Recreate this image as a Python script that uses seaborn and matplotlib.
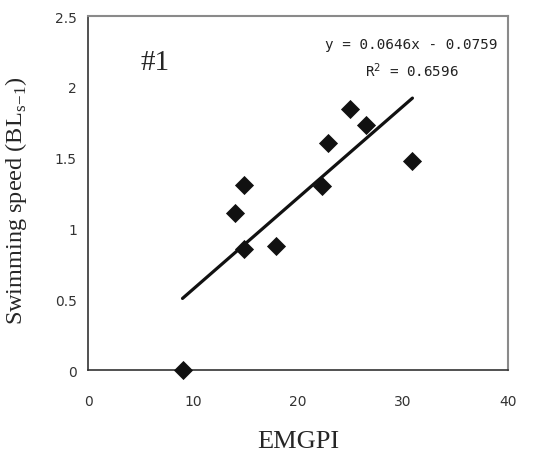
import numpy as np
import pandas as pd
import matplotlib
matplotlib.use("Agg")
import matplotlib.pyplot as plt
import seaborn as sns

# EMGPI vs swimming speed, fish #1
emgpi = [9.0, 14.0, 14.9, 14.9, 17.9, 22.3, 22.9, 25.0, 26.5, 30.9]
speed = [0.0, 1.11, 1.31, 0.855, 0.876, 1.30, 1.60, 1.84, 1.73, 1.475]

# trend line as printed on the chart
slope = 0.0646
intercept = -0.0759
eq_text = "y = 0.0646x - 0.0759"
r2_text = "R$^2$ = 0.6596"

x_ticks = [0, 10, 20, 30, 40]
y_ticks = [0, 0.5, 1, 1.5, 2, 2.5]
y_tick_labels = ["0", "0.5", "1", "1.5", "2", "2.5"]


def main():
    df = pd.DataFrame({"EMGPI": emgpi, "speed": speed})

    sns.set_theme(style="white")
    fig = plt.figure(figsize=(5.38, 4.56), dpi=100)
    ax = fig.add_axes([0.1636, 0.1864, 0.7806, 0.7763])

    # fitted line over the data range
    xs = np.array([df["EMGPI"].min(), df["EMGPI"].max()])
    line_df = pd.DataFrame({"EMGPI": xs, "speed": slope * xs + intercept})
    sns.lineplot(data=line_df, x="EMGPI", y="speed", ax=ax,
                 color="#111111", linewidth=2.3)

    sns.scatterplot(data=df, x="EMGPI", y="speed", ax=ax, marker="D",
                    s=95, color="#111111", edgecolor="#111111",
                    linewidth=0, zorder=3, clip_on=False)

    ax.set_xlim(0, 40)
    ax.set_ylim(0, 2.5)
    ax.set_xticks(x_ticks)
    ax.set_yticks(y_ticks)
    ax.set_yticklabels(y_tick_labels)
    ax.tick_params(axis="both", direction="in", length=5, width=1,
                   color="#444444", labelsize=10, labelcolor="#333333",
                   pad=8)
    ax.tick_params(axis="x", pad=17)
    for lab in ax.get_xticklabels() + ax.get_yticklabels():
        lab.set_family("DejaVu Sans")

    for side in ["left", "bottom"]:
        ax.spines[side].set_color("#333333")
        ax.spines[side].set_linewidth(1.2)
    for side in ["top", "right"]:
        ax.spines[side].set_color("#8a8a8a")
        ax.spines[side].set_linewidth(1.5)

    ax.set_xlabel("EMGPI", family="Liberation Serif", fontsize=19,
                  labelpad=16)
    ax.set_ylabel(r"Swimming speed (BL$_{\mathregular{s\!-\!1}}$)",
                  family="Liberation Serif", fontsize=17.5)
    ax.yaxis.set_label_coords(-0.14, 0.48)

    ax.text(5.0, 2.175, "#1", family="Liberation Serif", fontsize=21,
            va="center", ha="left")
    ax.text(30.8, 2.30, eq_text, family="DejaVu Sans Mono", fontsize=10.3,
            ha="center", va="center", color="#222222")
    ax.text(30.8, 2.12, r2_text, family="DejaVu Sans Mono", fontsize=10.3,
            ha="center", va="center", color="#222222")

    fig.savefig("out.png", dpi=100)


if __name__ == "__main__":
    main()
